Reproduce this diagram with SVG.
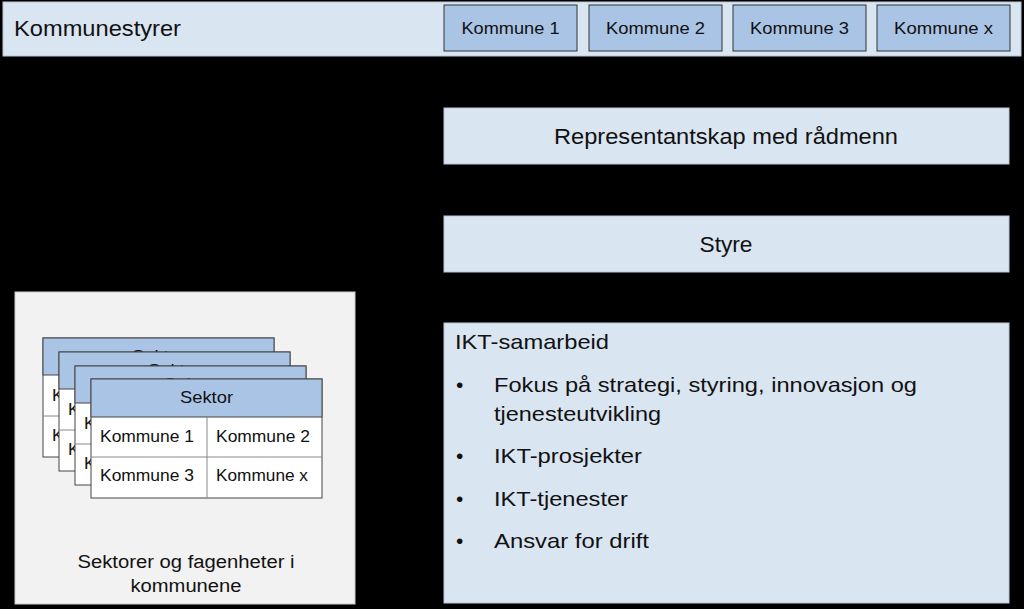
<svg xmlns="http://www.w3.org/2000/svg" width="1024" height="609" viewBox="0 0 1024 609">
<style>
text{font-family:"Liberation Sans",Arial,sans-serif;fill:#111}
.light{fill:#dae5f2;stroke:#b8c7da;stroke-width:1}
.kbox{fill:#aac4e6;stroke:#333;stroke-width:1}
.kt{font-size:17px;text-anchor:middle}
.big{font-size:22px}
.mid{text-anchor:middle}
.card rect.h{fill:#aac4e6;stroke:#444;stroke-width:1}
.card rect.b{fill:#fff;stroke:#444;stroke-width:1}
.card line{stroke:#888;stroke-width:1}
.ct{font-size:16.5px}
.it{font-size:21px}
</style>
<rect x="0" y="0" width="1024" height="609" fill="#000"/>
<g id="kommunestyrer">
<rect class="light" x="3" y="2" width="1018" height="54"/>
<text class="big" x="14" y="36" textLength="167" lengthAdjust="spacingAndGlyphs">Kommunestyrer</text>
</g>
<g id="kommune1"><rect class="kbox" x="444" y="5" width="133" height="46"/><text class="kt" x="510.5" y="34" textLength="98" lengthAdjust="spacingAndGlyphs">Kommune 1</text></g>
<g id="kommune2"><rect class="kbox" x="589" y="5" width="133" height="46"/><text class="kt" x="655.5" y="34" textLength="99" lengthAdjust="spacingAndGlyphs">Kommune 2</text></g>
<g id="kommune3"><rect class="kbox" x="733" y="5" width="133" height="46"/><text class="kt" x="799.5" y="34" textLength="99" lengthAdjust="spacingAndGlyphs">Kommune 3</text></g>
<g id="kommunex"><rect class="kbox" x="877" y="5" width="133" height="46"/><text class="kt" x="943.5" y="34" textLength="99" lengthAdjust="spacingAndGlyphs">Kommune x</text></g>
<g id="connectors"></g>
<g id="representantskap">
<rect class="light" x="444" y="108" width="565" height="56"/>
<text class="big mid" x="726" y="144" textLength="344" lengthAdjust="spacingAndGlyphs">Representantskap med rådmenn</text>
</g>
<g id="styre">
<rect class="light" x="444" y="216" width="565" height="56"/>
<text class="big mid" x="726" y="252" textLength="53" lengthAdjust="spacingAndGlyphs">Styre</text>
</g>
<g id="sektorer">
<rect x="15" y="292" width="340" height="312" fill="#f2f2f2" stroke="#ccc"/>
<g class="card" transform="translate(43,338)">
<rect class="b" x="0" y="0" width="231" height="119"/><rect class="h" x="0" y="0" width="231" height="37"/>
<line x1="0" y1="78" x2="231" y2="78"/><line x1="116" y1="37" x2="116" y2="119"/>
<text class="ct mid" x="115.5" y="24" textLength="53" lengthAdjust="spacingAndGlyphs">Sektor</text><text class="ct" x="9" y="63" textLength="94" lengthAdjust="spacingAndGlyphs">Kommune 1</text><text class="ct" x="125" y="63" textLength="94" lengthAdjust="spacingAndGlyphs">Kommune 2</text><text class="ct" x="9" y="103" textLength="94" lengthAdjust="spacingAndGlyphs">Kommune 3</text><text class="ct" x="125" y="103" textLength="92" lengthAdjust="spacingAndGlyphs">Kommune x</text>
</g>
<g class="card" transform="translate(59,352)">
<rect class="b" x="0" y="0" width="231" height="119"/><rect class="h" x="0" y="0" width="231" height="37"/>
<line x1="0" y1="78" x2="231" y2="78"/><line x1="116" y1="37" x2="116" y2="119"/>
<text class="ct mid" x="115.5" y="24" textLength="53" lengthAdjust="spacingAndGlyphs">Sektor</text><text class="ct" x="9" y="63" textLength="94" lengthAdjust="spacingAndGlyphs">Kommune 1</text><text class="ct" x="125" y="63" textLength="94" lengthAdjust="spacingAndGlyphs">Kommune 2</text><text class="ct" x="9" y="103" textLength="94" lengthAdjust="spacingAndGlyphs">Kommune 3</text><text class="ct" x="125" y="103" textLength="92" lengthAdjust="spacingAndGlyphs">Kommune x</text>
</g>
<g class="card" transform="translate(75,366)">
<rect class="b" x="0" y="0" width="231" height="119"/><rect class="h" x="0" y="0" width="231" height="37"/>
<line x1="0" y1="78" x2="231" y2="78"/><line x1="116" y1="37" x2="116" y2="119"/>
<text class="ct mid" x="115.5" y="24" textLength="53" lengthAdjust="spacingAndGlyphs">Sektor</text><text class="ct" x="9" y="63" textLength="94" lengthAdjust="spacingAndGlyphs">Kommune 1</text><text class="ct" x="125" y="63" textLength="94" lengthAdjust="spacingAndGlyphs">Kommune 2</text><text class="ct" x="9" y="103" textLength="94" lengthAdjust="spacingAndGlyphs">Kommune 3</text><text class="ct" x="125" y="103" textLength="92" lengthAdjust="spacingAndGlyphs">Kommune x</text>
</g>
<g class="card" transform="translate(91,379)">
<rect class="b" x="0" y="0" width="231" height="119"/><rect class="h" x="0" y="0" width="231" height="38"/>
<line x1="0" y1="78" x2="231" y2="78"/><line x1="116" y1="38" x2="116" y2="119"/>
<text class="ct mid" x="115.5" y="24" textLength="53" lengthAdjust="spacingAndGlyphs">Sektor</text><text class="ct" x="9" y="63" textLength="94" lengthAdjust="spacingAndGlyphs">Kommune 1</text><text class="ct" x="125" y="63" textLength="94" lengthAdjust="spacingAndGlyphs">Kommune 2</text><text class="ct" x="9" y="102" textLength="94" lengthAdjust="spacingAndGlyphs">Kommune 3</text><text class="ct" x="125" y="102" textLength="92" lengthAdjust="spacingAndGlyphs">Kommune x</text>
</g>
<text class="mid" x="186" y="568" font-size="18" textLength="217" lengthAdjust="spacingAndGlyphs">Sektorer og fagenheter i</text>
<text class="mid" x="186" y="592" font-size="18" textLength="111" lengthAdjust="spacingAndGlyphs">kommunene</text>
</g>
<g id="ikt">
<rect class="light" x="444" y="323" width="565" height="280"/>
<text class="it" x="455" y="349" textLength="154" lengthAdjust="spacingAndGlyphs">IKT-samarbeid</text>
<text class="it" x="456" y="392">•</text><text class="it" x="494" y="392" textLength="423" lengthAdjust="spacingAndGlyphs">Fokus på strategi, styring, innovasjon og</text>
<text class="it" x="494" y="421" textLength="167" lengthAdjust="spacingAndGlyphs">tjenesteutvikling</text>
<text class="it" x="456" y="463">•</text><text class="it" x="494" y="463" textLength="148" lengthAdjust="spacingAndGlyphs">IKT-prosjekter</text>
<text class="it" x="456" y="506">•</text><text class="it" x="494" y="506" textLength="134" lengthAdjust="spacingAndGlyphs">IKT-tjenester</text>
<text class="it" x="456" y="548">•</text><text class="it" x="494" y="548" textLength="155" lengthAdjust="spacingAndGlyphs">Ansvar for drift</text>
</g>
</svg>
